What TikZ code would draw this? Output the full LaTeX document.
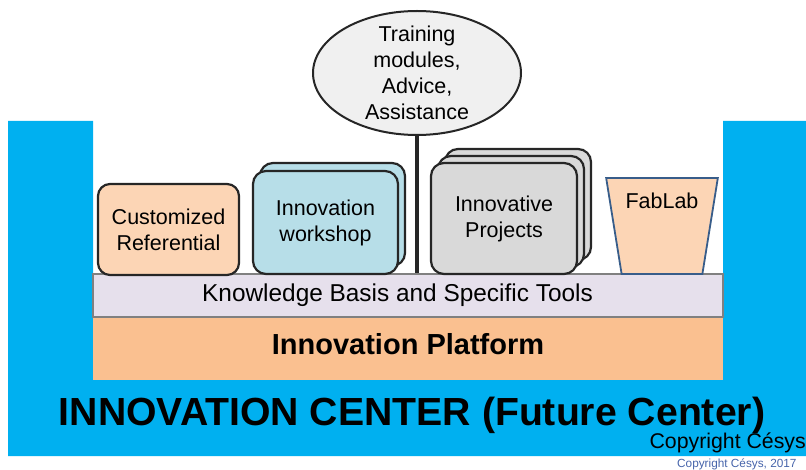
\documentclass[tikz,border=0pt]{standalone}
\usepackage{fontspec}
\setmainfont{Liberation Sans}
\usetikzlibrary{shapes.geometric,positioning}
\definecolor{CenterClr}{RGB}{0,176,240}
\definecolor{PeachClr}{RGB}{252,213,181}
\definecolor{PlatformClr}{RGB}{250,192,144}
\definecolor{AquaClr}{RGB}{183,222,232}
\definecolor{GreyClr}{RGB}{217,217,217}
\definecolor{LilacClr}{RGB}{230,224,236}
\definecolor{BarEdgeClr}{RGB}{128,128,128}
\definecolor{EdgeClr}{RGB}{38,38,38}
\definecolor{FabEdgeClr}{RGB}{56,93,138}
\definecolor{NoteClr}{RGB}{70,100,170}
\newcommand{\BoxFont}{\fontsize{21.5}{26}\selectfont}

\begin{document}
\begin{tikzpicture}[x=1pt,y=-1pt,
  every node/.style={inner sep=0pt},
  box/.style={draw=EdgeClr,line width=2.2pt,rounded corners=13pt,align=center,font=\BoxFont},
  wbox/.style={box,fill=AquaClr,minimum width=145pt,minimum height=103pt},
  pbox/.style={box,fill=GreyClr,minimum width=146pt,minimum height=111pt}]
\useasboundingbox (0,0) rectangle (806,470);

% Το μπλε πλαίσιο του κέντρου.
\fill[CenterClr] (8,121) -- (93,121) -- (93,317) -- (723,317) -- (723,121)
  -- (806,121) -- (806,456) -- (8,456) -- cycle;

% Πλατφόρμα και βάση γνώσεων.
\node[fill=PlatformClr,minimum width=630pt,minimum height=63pt,
  font=\fontsize{29}{34}\bfseries,text height=18pt,text depth=5pt] (plat) at (408,348.5) {Innovation Platform};
\node[draw=BarEdgeClr,fill=LilacClr,line width=2.2pt,minimum width=630pt,minimum height=43pt,
  font=\fontsize{24.4}{28}\selectfont,text height=17pt,text depth=5pt] (kbar) at (408,295.5)
  {\kern-21pt Knowledge Basis and Specific Tools};

% Εκπαίδευση.
\node[ellipse,draw=EdgeClr,fill=black!6,line width=2pt,minimum width=208pt,minimum height=124pt,
  inner xsep=0pt,inner ysep=-8pt,align=center,font=\BoxFont] (train) at (417,73)
  {Training\\modules,\\Advice,\\Assistance};
\draw[EdgeClr,line width=4pt] (train.south) -- (train.south |- kbar.north);

% Τα κουτιά πάνω στη βάση.
\node[box,fill=PeachClr,minimum width=141pt,minimum height=91pt,rounded corners=12pt] (cref) at (168.5,229.5) {Customized\\Referential};
\node[wbox] (wsB) at (332.5,214.5) {};
\node[wbox] (wsA) at (325.5,222.5) {Innovation\\workshop};
\node[pbox] (prC) at (518,204.5) {};
\node[pbox] (prB) at (511,211.5) {};
\node[pbox] (prA) at (504,218.5) {Innovative\\Projects};
\node[trapezium,trapezium stretches=true,shape border rotate=180,
  trapezium left angle=77.7,trapezium right angle=77.7,
  minimum width=112pt,minimum height=96pt,draw=FabEdgeClr,fill=PeachClr,line width=1.8pt,
  font=\BoxFont,text height=15pt,text depth=49pt] (fab) at (662,226) {FabLab};

% Τίτλοι.
\node[anchor=base,font=\fontsize{39.2}{44}\bfseries] (title) at (412,425) {INNOVATION CENTER (Future Center)};
\node[anchor=base east,font=\fontsize{21.3}{25}\selectfont] (copy) at (806,448) {Copyright Césys};
\node[anchor=base west,font=\fontsize{11.8}{14}\selectfont,text=NoteClr] (note) at (677,467) {Copyright Césys, 2017};

\end{tikzpicture}
\end{document}
